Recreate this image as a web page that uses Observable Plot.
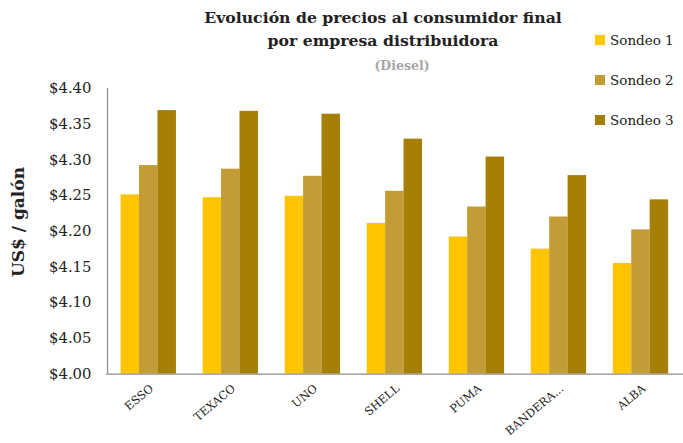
<!DOCTYPE html>
<html>
<head>
<meta charset="utf-8">
<script src="https://cdn.jsdelivr.net/npm/d3@7"></script>
<script src="https://cdn.jsdelivr.net/npm/@observablehq/plot@0.6"></script>
<style>
  html, body { margin: 0; padding: 0; background: #fff; overflow: hidden; }
  #wrap { position: relative; width: 683px; height: 443px; overflow: hidden; background: #fff; font-family: "DejaVu Serif", serif; }
  #title { position: absolute; left: 183px; top: 6px; width: 400px; text-align: center; font-weight: bold; font-size: 15.7px; line-height: 23px; color: #222; }
  #sub { position: absolute; left: 302px; top: 58px; width: 200px; text-align: center; font-weight: bold; font-size: 12.5px; color: #a6a6a6; }
  #ytitle { position: absolute; left: 18px; top: 222px; transform: translate(-50%, -50%) rotate(-90deg); font-weight: bold; font-size: 17px; color: #222; white-space: nowrap; }
  #legend { position: absolute; left: 595px; top: 20px; font-size: 13.5px; color: #222; }
  .item { display: flex; align-items: center; height: 40px; }
  .sw { width: 10px; height: 10px; margin-right: 5px; }
  svg { position: absolute; left: 0; top: 0; }
</style>
</head>
<body>
<div id="wrap">
  <div id="title">Evolución de precios al consumidor final<br>por empresa distribuidora</div>
  <div id="sub">(Diesel)</div>
  <div id="ytitle">US$ / galón</div>
  <div id="legend"></div>
</div>
<script>
const companies = ["ESSO", "TEXACO", "UNO", "SHELL", "PUMA", "BANDERA...", "ALBA"];
const series = ["Sondeo 1", "Sondeo 2", "Sondeo 3"];
const sondeo1 = [4.251, 4.247, 4.249, 4.211, 4.192, 4.175, 4.155];
const sondeo2 = [4.292, 4.287, 4.277, 4.256, 4.234, 4.220, 4.202];
const sondeo3 = [4.369, 4.368, 4.364, 4.329, 4.304, 4.278, 4.244];
const yTicks = [4.00, 4.05, 4.10, 4.15, 4.20, 4.25, 4.30, 4.35, 4.40];
const colors = ["#FFC400", "#C29D35", "#A67F06"];

const W = 691, H = 443, mL = 107, mR = 0, padIn = 0.33;
const step = (W - mL - mR) / companies.length;
const bw = step * (1 - padIn);

const values = [sondeo1, sondeo2, sondeo3];
const marks = [];
values.forEach((vals, i) => {
  const data = companies.map((c, j) => ({company: c, value: vals[j]}));
  marks.push(Plot.barY(data, {
    x: "company", y1: () => 4, y2: "value",
    fill: colors[i],
    insetLeft: bw * i / 3, insetRight: bw * (2 - i) / 3
  }));
});

const chart = Plot.plot({
  width: W, height: H,
  marginLeft: mL, marginRight: mR, marginTop: 89, marginBottom: 65,
  style: {fontFamily: "DejaVu Serif, serif", background: "transparent", overflow: "visible"},
  x: {domain: companies, paddingInner: padIn, paddingOuter: padIn / 2, axis: null},
  y: {domain: [4, 4.4], axis: null},
  marks: [
    ...marks,
    Plot.ruleY([4], {stroke: "#8c8c8c", strokeWidth: 1.2}),
    Plot.ruleX([companies[0]], {x: d => d, y1: 4, y2: 4.4, dx: -step / 2, stroke: "#8c8c8c", strokeWidth: 1.2}),
    Plot.axisY({ticks: yTicks, tickFormat: d => "$" + d.toFixed(2), tickSize: 0, tickPadding: 15, fontSize: 15, fill: "#222", label: null}),
    Plot.text(companies, {x: d => d, y: 4, text: d => d, rotate: -40, textAnchor: "end", dx: 3, dy: 13, fontSize: 11.5, fill: "#222"})
  ]
});
document.getElementById("wrap").appendChild(chart);

const legend = document.getElementById("legend");
series.forEach((s, i) => {
  const row = document.createElement("div");
  row.className = "item";
  row.innerHTML = `<div class="sw" style="background:${colors[i]}"></div><span>${s}</span>`;
  legend.appendChild(row);
});
</script>
</body>
</html>
